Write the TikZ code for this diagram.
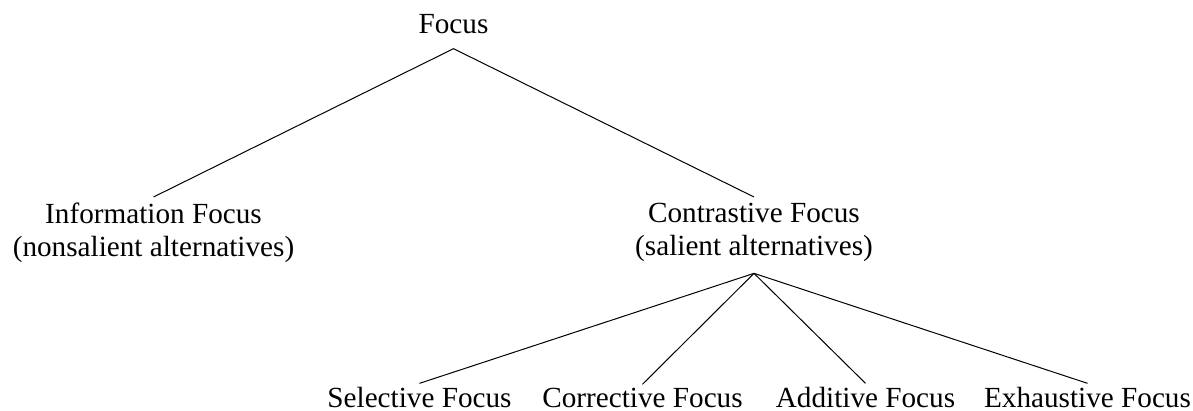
\documentclass[tikz,border=0pt]{standalone}
\usepackage{fontspec}
\setmainfont{Liberation Serif}
\begin{document}
\begin{tikzpicture}[x=0.5pt,y=-0.5pt,
  lbl/.style={inner sep=0pt, font=\fontsize{14.6pt}{16.5pt}\selectfont, align=center},
  edge/.style={draw=black, line width=0.5pt}]
\useasboundingbox (0,0) rectangle (1193,411);
\node[lbl,anchor=base] (root) at (453.5,34) {Focus};
\node[lbl,anchor=north] (info) at (153.5,203) {Information Focus\\(nonsalient alternatives)};
\node[lbl,anchor=north] (contr) at (754,203) {Contrastive Focus\\(salient alternatives)};
\node[lbl,anchor=base] (sel) at (419.5,407.5) {Selective Focus};
\node[lbl,anchor=base] (cor) at (642.5,407.5) {Corrective Focus};
\node[lbl,anchor=base] (add) at (865.5,407.5) {Additive Focus};
\node[lbl,anchor=base] (exh) at (1087.5,407.5) {Exhaustive Focus};
\draw[edge] ([yshift=3pt]info.north) -- ([yshift=-7pt]root.south) -- ([yshift=3pt]contr.north);
\draw[edge] ([yshift=-5.5pt]contr.south) -- ([yshift=1.75pt]sel.north);
\draw[edge] ([yshift=-5.5pt]contr.south) -- ([yshift=1.75pt]cor.north);
\draw[edge] ([yshift=-5.5pt]contr.south) -- ([yshift=1.75pt]add.north);
\draw[edge] ([yshift=-5.5pt]contr.south) -- ([yshift=1.75pt]exh.north);
\end{tikzpicture}
\end{document}
